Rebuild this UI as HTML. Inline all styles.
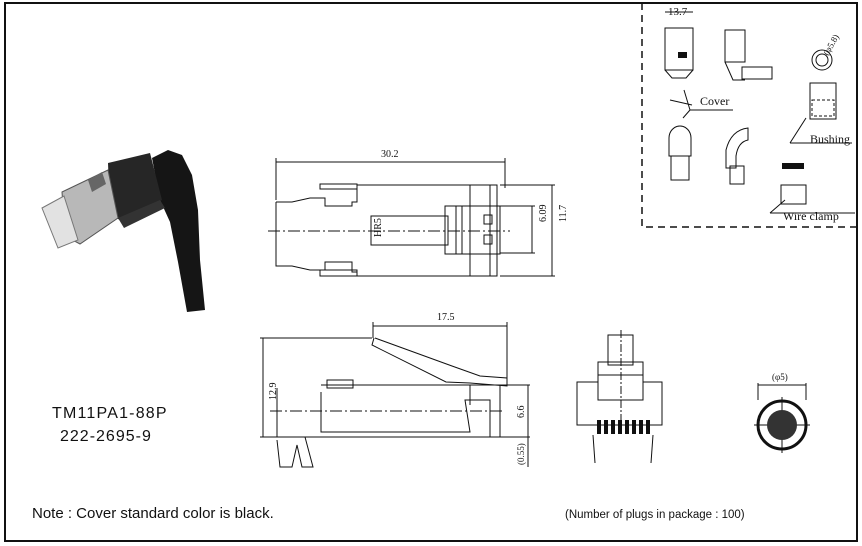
<!DOCTYPE html>
<html><head><meta charset="utf-8"><style>
body{margin:0;background:#fff;}
svg{display:block}
text{font-family:"Liberation Serif",serif;fill:#111}
.s{font-family:"Liberation Sans",sans-serif}
</style></head><body>
<svg width="862" height="546" viewBox="0 0 862 546" xmlns="http://www.w3.org/2000/svg">
<rect x="5" y="3" width="852" height="538" fill="#fff" stroke="#111" stroke-width="2"/>
<polyline points="642,3 642,227 857,227" fill="none" stroke="#111" stroke-width="1.5" stroke-dasharray="7,5"/>

<!-- photo -->
<g>
<path d="M152,158 L168,150 L182,155 L192,175 L198,210 L200,260 L205,310 L187,312 L178,262 L170,222 L160,200 Z" fill="#151515"/>
<path d="M108,163 L150,153 L162,200 L124,222 L110,215 Z" fill="#262626"/>
<path d="M62,192 L108,170 L118,218 L80,244 L65,236 Z" fill="#b8b8b8" stroke="#555"/>
<path d="M42,208 L64,196 L78,240 L58,248 Z" fill="#e2e2e2" stroke="#777"/>
<path d="M88,180 L102,172 L106,184 L92,192 Z" fill="#666"/>
<path d="M118,218 L160,200 L165,208 L124,228 Z" fill="#333"/>
</g>

<g stroke="#111" stroke-width="1" fill="none">
<line x1="276" y1="158" x2="276" y2="200"/><line x1="505" y1="158" x2="505" y2="188"/>
<line x1="276" y1="162" x2="505" y2="162"/>
<polyline points="276,202 292,202 310,198 325,198 325,206 352,206 352,202 357,202 357,185 497,185 497,276 357,276 357,272 352,272 352,262 325,262 325,270 310,270 292,266 276,266 276,202"/>
<rect x="320" y="184" width="37" height="5"/><rect x="320" y="270" width="37" height="6"/>
<rect x="371" y="216" width="77" height="29"/>
<rect x="445" y="206" width="55" height="48"/><line x1="456" y1="206" x2="456" y2="254"/><line x1="462" y1="206" x2="462" y2="254"/>
<line x1="470" y1="185" x2="470" y2="276"/><line x1="490" y1="185" x2="490" y2="276"/><line x1="497" y1="185" x2="497" y2="276"/>
<rect x="484" y="215" width="8" height="9"/><rect x="484" y="235" width="8" height="9"/>
<line x1="268" y1="231" x2="510" y2="231" stroke-dasharray="12,3,2,3"/>
<line x1="500" y1="206" x2="535" y2="206"/><line x1="500" y1="253" x2="535" y2="253"/><line x1="532" y1="206" x2="532" y2="253"/>
<line x1="500" y1="185" x2="555" y2="185"/><line x1="500" y1="276" x2="555" y2="276"/><line x1="552" y1="185" x2="552" y2="276"/>
<line x1="373" y1="322" x2="373" y2="338"/><line x1="507" y1="322" x2="507" y2="385"/>
<line x1="373" y1="326" x2="507" y2="326"/>
<line x1="260" y1="338" x2="372" y2="338"/><line x1="263" y1="338" x2="263" y2="437"/><line x1="260" y1="437" x2="277" y2="437"/>
<polyline points="374,338 372,345 446,382 470,383 507,386 507,378 480,376 452,366 375,338"/>
<polyline points="277,388 277,437 500,437 500,385 321,385"/>
<rect x="327" y="380" width="26" height="8"/>
<polyline points="321,392 321,432 470,432 465,400 490,400 490,437"/>
<line x1="470" y1="385" x2="470" y2="405"/>
<polyline points="277,440 280,467 292,467 297,445 302,467 313,467 305,437"/>
<line x1="270" y1="411" x2="505" y2="411" stroke-dasharray="12,3,2,3"/>
<line x1="500" y1="385" x2="530" y2="385"/><line x1="500" y1="437" x2="530" y2="437"/><line x1="528" y1="385" x2="528" y2="467"/>
<rect x="608" y="335" width="25" height="30"/><rect x="598" y="362" width="45" height="13"/>
<rect x="577" y="382" width="85" height="43"/><rect x="598" y="375" width="45" height="25" fill="#fff"/>
<line x1="621" y1="330" x2="621" y2="430" stroke-dasharray="8,2,2,2"/>
<line x1="593" y1="435" x2="595" y2="463"/><line x1="653" y1="435" x2="651" y2="463"/>
<line x1="758" y1="383" x2="758" y2="400"/><line x1="806" y1="383" x2="806" y2="400"/><line x1="758" y1="385" x2="806" y2="385"/>
<circle cx="782" cy="425" r="24" stroke-width="3"/>
<line x1="754" y1="425" x2="810" y2="425"/><line x1="782" y1="397" x2="782" y2="453"/>
<rect x="665" y="28" width="28" height="42"/><path d="M665,70 L672,78 L686,78 L693,70"/>
<rect x="725" y="30" width="20" height="32"/><rect x="742" y="67" width="30" height="12"/><path d="M725,62 L733,80 L745,80"/>
<circle cx="822" cy="60" r="10"/><circle cx="822" cy="60" r="6"/>
<rect x="810" y="83" width="26" height="36"/>
<path d="M669,138 a11,12 0 0 1 22,0 v18 h-22 z"/><rect x="671" y="156" width="18" height="24"/>
<path d="M726,150 q5,-20 22,-22 v12 q-10,2 -12,16 v12 h-10 z"/><rect x="730" y="166" width="14" height="18"/>
<rect x="781" y="185" width="25" height="19"/>
<path d="M670,100 L692,105 M690,110 L733,110 M690,110 L683,118 M690,110 L684,90"/>
<path d="M790,143 L852,143 M790,143 L806,118"/>
<path d="M770,213 L855,213 M770,213 L785,200"/>
<line x1="665" y1="12" x2="693" y2="12"/>
</g>
<rect x="678" y="52" width="9" height="6" fill="#111"/>
<rect x="782" y="163" width="22" height="6" fill="#111"/>
<circle cx="782" cy="425" r="15" fill="#333"/>
<g fill="#111"><rect x="597" y="420" width="4" height="14"/><rect x="604" y="420" width="4" height="14"/><rect x="611" y="420" width="4" height="14"/><rect x="618" y="420" width="4" height="14"/><rect x="625" y="420" width="4" height="14"/><rect x="632" y="420" width="4" height="14"/><rect x="639" y="420" width="4" height="14"/><rect x="646" y="420" width="4" height="14"/></g>
<rect x="812" y="100" width="22" height="16" fill="none" stroke="#111" stroke-dasharray="3,2"/>

<text x="381" y="157" font-size="10">30.2</text>
<text x="437" y="320" font-size="10">17.5</text>
<text transform="translate(546,222) rotate(-90)" font-size="10">6.09</text>
<text transform="translate(566,222) rotate(-90)" font-size="10">11.7</text>
<text transform="translate(276,400) rotate(-90)" font-size="10">12.9</text>
<text transform="translate(524,418) rotate(-90)" font-size="10">6.6</text>
<text transform="translate(524,465) rotate(-90)" font-size="9">(0.55)</text>
<text transform="translate(381,237) rotate(-90)" font-size="10">HR5</text>
<text x="772" y="380" font-size="9">(φ5)</text>
<text x="668" y="15" font-size="11">13.7</text>
<text x="700" y="105" font-size="12">Cover</text>
<text x="810" y="143" font-size="12">Bushing</text>
<text x="783" y="220" font-size="12">Wire clamp</text>
<text transform="translate(828,56) rotate(-60)" font-size="9">(φ5.8)</text>
<text class="s" x="52" y="418" font-size="16" letter-spacing="1.2">TM11PA1-88P</text>
<text class="s" x="60" y="441" font-size="16" letter-spacing="1">222-2695-9</text>
<text class="s" x="32" y="518" font-size="15">Note : Cover standard color is black.</text>
<text class="s" x="565" y="518" font-size="11.5">(Number of plugs in package : 100)</text>
</svg>
</body></html>
